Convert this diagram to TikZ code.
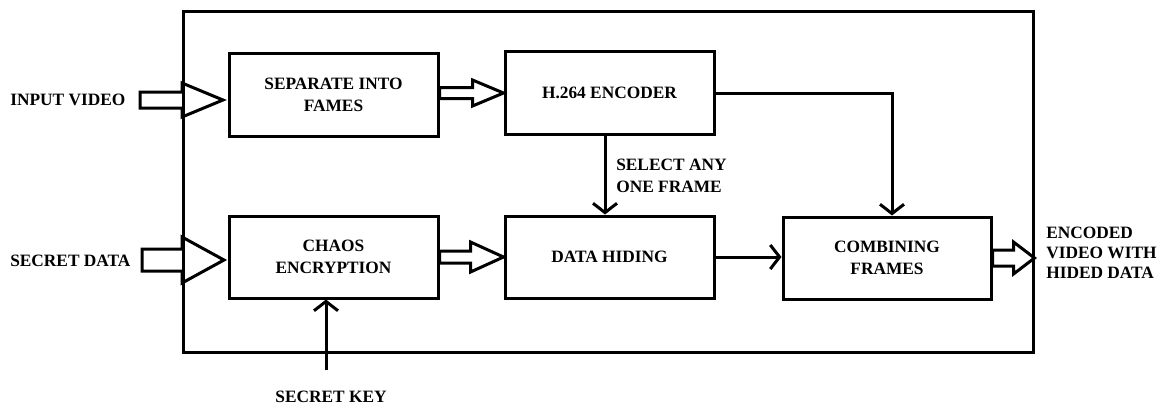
\documentclass[tikz,border=0pt]{standalone}
\usepackage{fontspec}
\setmainfont{Liberation Serif}
\usetikzlibrary{arrows.meta,calc}

% hollow block arrow from a tail point to a tip point
% #1 tail, #2 tip, #3 shaft half-height, #4 head half-height, #5 head length
\newcommand\blockarrow[5]{%
  \draw[blk] ($#1+(0,-#3)$) -- ($#2+(-#5,-#3)$) -- ($#2+(-#5,-#4)$) -- #2
    -- ($#2+(-#5,#4)$) -- ($#2+(-#5,#3)$) -- ($#1+(0,#3)$) -- cycle;}

\tikzset{
  lbl/.style={font=\fontsize{13pt}{16.5pt}\selectfont\bfseries, inner sep=0pt},
  stage/.style={draw, line width=2.25pt, inner sep=0pt, align=center,
    minimum width=156.75pt, minimum height=62pt, lbl},
  blk/.style={draw, line width=2.25pt, line join=miter},
  arr/.style={line width=2.25pt,
    -{Straight Barb[length=7pt,width=18pt,line width=2.25pt]}},
}

\begin{document}
\begin{tikzpicture}[x=0.75pt, y=-0.75pt]
\useasboundingbox (0,0) rectangle (1163,405);

% outer system frame
\node[draw, line width=2.25pt, minimum width=637.5pt, minimum height=255.75pt,
      inner sep=0pt] (frame) at (608,181.5) {};

% processing stages
\node[stage] (sep)   at (333.5,95)  {SEPARATE INTO\\FAMES};
\node[stage] (enc)   at (609.5,93)  {H.264 ENCODER};
\node[stage, minimum height=61.5pt] (chaos) at (333.5,257) {CHAOS\\ENCRYPTION};
\node[stage, minimum height=61.5pt] (hide)  at (609.5,257) {DATA HIDING};
\node[stage, minimum width=156pt, minimum height=61.5pt] (comb) at (887,258) {COMBINING\\FRAMES};

% external labels
\node[lbl, anchor=west] (lin)  at (10,100) {INPUT VIDEO};
\node[lbl, anchor=west] (lsd)  at (10,261) {SECRET DATA};
\node[lbl, anchor=west, align=left] (lsel) at (616,176) {SELECT ANY\\ONE FRAME};
\node[lbl, anchor=west, align=left, font=\fontsize{13pt}{15pt}\selectfont\bfseries]
      (lout) at (1046,253) {ENCODED\\VIDEO WITH\\HIDED DATA};
\node[lbl] (lkey) at (331,397) {SECRET KEY};

% block arrows
\coordinate (vinT) at (140,100);
\coordinate (vinH) at (223,100);
\blockarrow{(vinT)}{(vinH)}{8}{17}{41}
\coordinate (sdT) at (142,260);
\coordinate (sdH) at (224,260);
\blockarrow{(sdT)}{(sdH)}{11}{23}{42}
\coordinate (a3) at (sep.east |- enc.east);
\blockarrow{(a3)}{(enc.west)}{5.5}{13}{31}
\blockarrow{(chaos.east)}{(hide.west)}{6}{15}{33}
\coordinate (outH) at (frame.east |- comb.east);
\blockarrow{(comb.east)}{(outH)}{8}{16}{21}

% plain arrows
\draw[arr] (enc.south) ++(-4.5,0) coordinate (s1) -- (s1 |- hide.north);
\draw[arr] (enc.east) -| ([xshift=3.75pt]comb.north);
\draw[arr] (hide.east) -- (hide.east -| comb.west);
\coordinate (key) at (326,370);
\draw[arr] (key) -- (key |- chaos.south);
\end{tikzpicture}
\end{document}
